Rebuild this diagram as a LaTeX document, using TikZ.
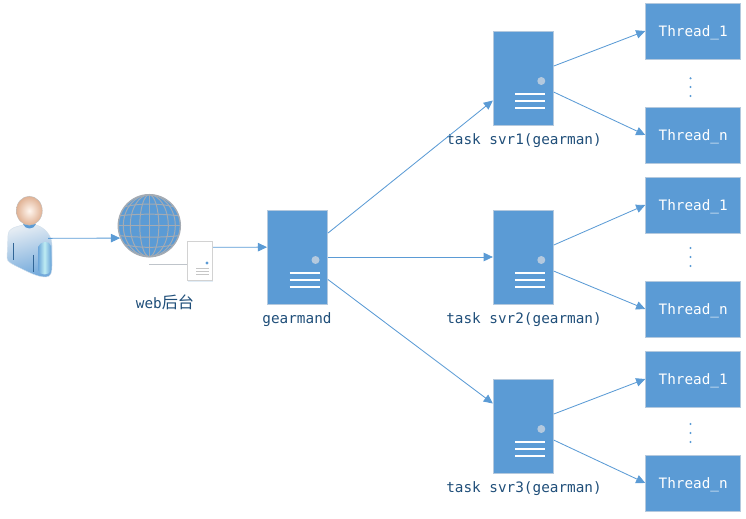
\documentclass[tikz,border=0pt]{standalone}
\usepackage{fontspec}
\setmonofont{DejaVu Sans Mono}[Scale=1.02]
\newfontfamily\cjkfont{Noto Sans CJK SC}[Scale=1.15]
\usetikzlibrary{arrows.meta, shadows}
\definecolor{boxblue}{HTML}{5B9BD5}
\definecolor{boxedge}{HTML}{B4C9DE}
\definecolor{labelblue}{HTML}{1F4E79}
\definecolor{gridgray}{HTML}{A4ABB3}
\definecolor{skinlight}{HTML}{FFF6EF}
\definecolor{skindark}{HTML}{E0B193}
\tikzset{
	softshadow/.style={drop shadow={shadow xshift=0.5pt, shadow yshift=-0.7pt, opacity=0.18, fill=boxblue}},
	link/.style={draw=boxblue, line width=0.6pt, -{Triangle[length=6.5pt, width=6pt]}},
	caption/.style={text=labelblue, font=\ttfamily\fontsize{10}{12}\selectfont, inner sep=0pt},
	thread/.style={rectangle, softshadow, fill=boxblue, draw=boxedge, line width=0.6pt, minimum width=2.375cm, minimum height=1.4cm, inner sep=0pt, text depth=0pt, text=white, font=\ttfamily\fontsize{10}{12}\selectfont},
	server/.style={rectangle, softshadow, fill=boxblue, draw=boxedge, line width=0.6pt, minimum width=1.5cm, minimum height=2.35cm, inner sep=0pt,
		path picture={
			\fill[boxedge] ([shift={(18,3)}]path picture bounding box.center) circle [radius=4];
			\draw[white, line width=1.2pt] ([shift={(-8,15.7)}]path picture bounding box.center) -- ++(30,0);
			\draw[white, line width=1.2pt] ([shift={(-8,23)}]path picture bounding box.center) -- ++(30,0);
			\draw[white, line width=1.2pt] ([shift={(-8,30.3)}]path picture bounding box.center) -- ++(30,0);
		}},
	gapdot/.style={fill=boxblue}
}
\begin{document}
\begin{tikzpicture}[x=0.025cm, y=-0.025cm]
	\useasboundingbox (0, 0) rectangle (746, 519);

	% user
	\node (user) [minimum width=1.125cm, minimum height=1.3cm, inner sep=0pt] at (29.5, 251) {};
	\shade[top color=boxedge!35!white, bottom color=boxblue!85!white, shading angle=15, draw=boxedge!60!white, line width=0.3pt]
		(23, 225) .. controls (14, 227) and (8, 229) .. (8, 235) -- (7, 258)
		.. controls (7, 262) and (12, 264) .. (20, 268)
		.. controls (30, 273) and (38, 277) .. (46, 277)
		.. controls (51, 277) and (52, 272) .. (52, 266) -- (52, 245)
		.. controls (52, 235) and (44, 227) .. (36, 225) -- cycle;
	\shade[left color=boxblue!90!white, right color=boxblue!90!white, middle color=boxedge!70!cyan!50!white]
		(38, 247) .. controls (40, 241) and (50, 240) .. (51, 246) -- (51, 270)
		.. controls (50, 276) and (39, 276) .. (38, 270) -- cycle;
	\fill[boxblue] (23, 224) .. controls (25, 230) and (34, 230) .. (36, 224) -- cycle;
	\draw[labelblue!70!boxblue, line width=0.7pt] (13, 243) -- (13, 260);
	\draw[labelblue!70!boxblue, line width=0.7pt] (33, 255) -- (33, 272);
	\shade[inner color=skinlight, outer color=skindark, draw=gray!50, line width=0.3pt]
		(29.3, 210.7) ellipse [x radius=13, y radius=14.5];

	% globe
	\node (globe) [circle, fill=boxblue, draw=gridgray, line width=1pt, minimum size=1.55cm, inner sep=0pt] at (149.3, 225.7) {};
	\begin{scope}[shift={(149.3, 225.7)}, draw=gridgray, line width=0.7pt]
		\draw (0, -31) -- (0, 31);
		\draw (0, 0) ellipse [x radius=9.5, y radius=31];
		\draw (0, 0) ellipse [x radius=19, y radius=31];
		\draw (0, 0) ellipse [x radius=26, y radius=31];
		\draw (-31, 0) -- (31, 0);
		\draw (-29.3, -10) .. controls (-12, -12) and (12, -12) .. (29.3, -10);
		\draw (-29.3, 10) .. controls (-12, 12) and (12, 12) .. (29.3, 10);
		\draw (-24.4, -19) .. controls (-10, -22.5) and (10, -22.5) .. (24.4, -19);
		\draw (-24.4, 19) .. controls (-10, 22.5) and (10, 22.5) .. (24.4, 19);
	\end{scope}

	% web box
	\draw[draw=gridgray!70, line width=0.5pt] (149, 264.3) -- (188, 264.3);
	\node (websvr) [rectangle, softshadow, fill=white, draw=gray!35, line width=0.6pt, minimum width=0.635cm, minimum height=0.98cm, inner sep=0pt] at (200, 261.3) {};
	\fill[boxblue] (207, 263) circle [radius=1.6];
	\draw[gray!45, line width=0.8pt] (196, 268.5) -- (209, 268.5);
	\draw[gray!45, line width=0.8pt] (196, 271.5) -- (209, 271.5);
	\draw[gray!45, line width=0.8pt] (196, 274.5) -- (209, 274.5);

	% servers
	\node (gearmand) [server] at (297.5, 257) {};
	\node (svrA) [server] at (523.3, 78) {};
	\node (svrB) [server] at (523.3, 257) {};
	\node (svrC) [server] at (523.3, 426) {};

	% threads
	\node (threadA1) [thread] at (693.2, 31) {Thread\_1};
	\node (threadAn) [thread] at (693.2, 135) {Thread\_n};
	\node (threadB1) [thread] at (693.2, 205) {Thread\_1};
	\node (threadBn) [thread] at (693.2, 309) {Thread\_n};
	\node (threadC1) [thread] at (693.2, 379) {Thread\_1};
	\node (threadCn) [thread] at (693.2, 483) {Thread\_n};

	% vertical dots
	\fill[gapdot] (690.5, 78.3) circle [radius=1.2];
	\fill[gapdot] (690.5, 87) circle [radius=1.2];
	\fill[gapdot] (690.5, 96) circle [radius=1.2];
	\fill[gapdot] (690.5, 248) circle [radius=1.2];
	\fill[gapdot] (690.5, 257) circle [radius=1.2];
	\fill[gapdot] (690.5, 266) circle [radius=1.2];
	\fill[gapdot] (690.5, 424) circle [radius=1.2];
	\fill[gapdot] (690.5, 433) circle [radius=1.2];
	\fill[gapdot] (690.5, 442) circle [radius=1.2];

	% captions
	\node (webcap) [caption] at (165, 302) {web{\cjkfont 后台}};
	\node (gearcap) [caption] at (297, 320) {gearmand};
	\node (capA) [caption] at (524, 141) {task svr1(gearman)};
	\node (capB) [caption] at (524, 320) {task svr2(gearman)};
	\node (capC) [caption] at (524, 489) {task svr3(gearman)};

	% connectors
	\draw[link] ([shift={(-3pt, 9pt)}]user.east) -- (globe.203);
	\draw[link] ([yshift=10pt]websvr.east) -- ([yshift=7pt]gearmand.west);
	\draw[link] ([yshift=17pt]gearmand.east) -- ([yshift=-16pt]svrA.west);
	\draw[link] (gearmand.east) -- (svrB.west);
	\draw[link] ([yshift=-16pt]gearmand.east) -- ([yshift=16pt]svrC.west);
	\draw[link] ([yshift=8.5pt]svrA.east) -- (threadA1.west);
	\draw[link] ([yshift=-10pt]svrA.east) -- (threadAn.west);
	\draw[link] ([yshift=8.5pt]svrB.east) -- (threadB1.west);
	\draw[link] ([yshift=-10pt]svrB.east) -- (threadBn.west);
	\draw[link] ([yshift=8.5pt]svrC.east) -- (threadC1.west);
	\draw[link] ([yshift=-10pt]svrC.east) -- (threadCn.west);
\end{tikzpicture}
\end{document}
